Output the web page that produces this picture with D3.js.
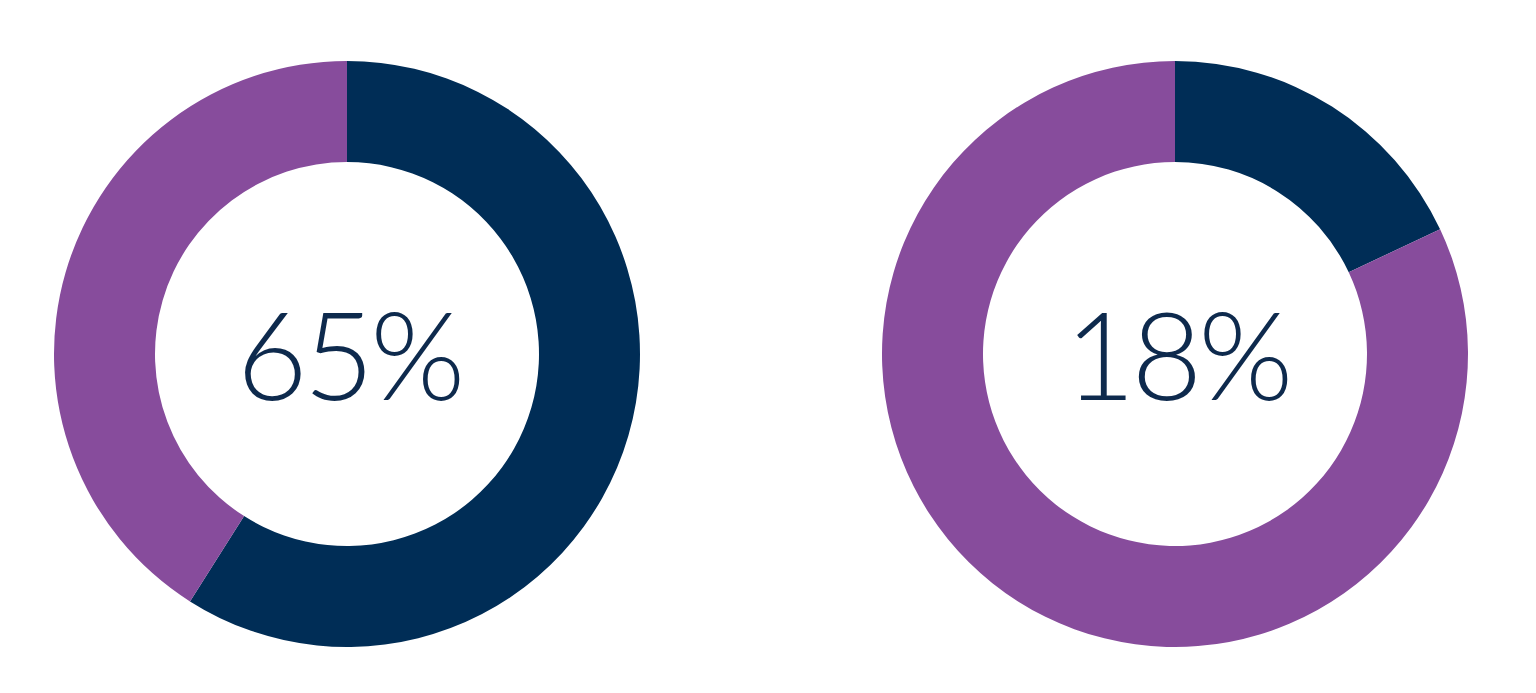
<!DOCTYPE html>
<html>
<head>
<meta charset="utf-8">
<script src="https://cdn.jsdelivr.net/npm/d3@7"></script>
<style>
  body { margin: 0; background: #fff; }
</style>
</head>
<body>
<div id="chart"></div>
<script>
var svgWidth = 1536;
var svgHeight = 693;

// values
var labels = ["65%", "18%"];
var segments = ["navy", "purple"];
var navyShare = [59, 18];   // share of the ring drawn in navy
var purpleShare = [41, 82];

var colors = d3.scaleOrdinal()
    .domain(segments)
    .range(["#002d56", "#874c9c"]);

var centers = d3.scalePoint()
    .domain(labels)
    .range([347, 1175]);

var outerR = 293;
var innerR = 192;
var cy = 354;

var svg = d3.select("#chart")
  .append("svg")
  .attr("width", svgWidth)
  .attr("height", svgHeight);

var pie = d3.pie()
    .sort(null)
    .value(d => d.value);

var arc = d3.arc()
    .innerRadius(innerR)
    .outerRadius(outerR);

labels.forEach(function(label, i) {
    var g = svg.append("g")
        .attr("transform", `translate(${centers(label)}, ${cy})`);

    var rows = [
        {key: "navy", value: navyShare[i]},
        {key: "purple", value: purpleShare[i]}
    ];

    g.selectAll("path")
        .data(pie(rows))
        .enter()
        .append("path")
        .attr("d", arc)
        .attr("fill", d => colors(d.data.key));

    g.append("text")
        .attr("x", 2)
        .attr("y", 46)
        .attr("text-anchor", "middle")
        .attr("font-family", "Lato, sans-serif")
        .attr("font-weight", 300)
        .attr("font-size", "122px")
        .attr("letter-spacing", "-4px")
        .attr("fill", "#0e2a4d")
        .text(label);
});
</script>
</body>
</html>
